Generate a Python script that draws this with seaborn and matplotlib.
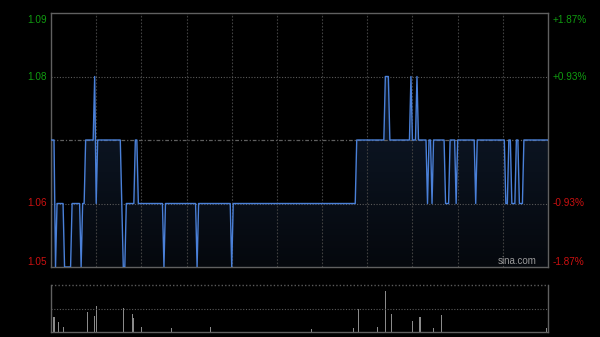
import numpy as np
import pandas as pd
import matplotlib
matplotlib.use("Agg")
import matplotlib.pyplot as plt
import seaborn as sns

# ---- data ----
price_levels = [1.07, 1.05, 1.06, 1.05, 1.06, 1.05, 1.06, 1.07, 1.08, 1.06,
                1.07, 1.06, 1.05, 1.06, 1.07, 1.06, 1.05, 1.06, 1.05, 1.06,
                1.05, 1.06, 1.07, 1.08, 1.07, 1.08, 1.07, 1.08, 1.07, 1.06,
                1.07, 1.06, 1.07, 1.06, 1.07, 1.06, 1.07, 1.06, 1.07, 1.06,
                1.07, 1.06, 1.07, 1.06, 1.07]
run_lengths = [3, 1, 5, 5, 6, 1, 2, 6, 1, 1,
               16, 1, 2, 6, 2, 17, 1, 21, 1, 22,
               1, 82, 19, 3, 14, 1, 3, 1, 6, 1,
               2, 1, 8, 3, 4, 1, 12, 1, 19, 2,
               2, 3, 2, 3, 17]
prev_close = 1.07

vol_minutes = [2, 5, 8, 24, 29, 30, 48, 54, 55, 60, 80, 106, 173,
               201, 204, 217, 222, 226, 240, 245, 254, 259, 329]
vol_values = [15, 10, 5, 20, 16, 26, 24, 18, 14, 5, 4, 5, 3,
              4, 23, 5, 41, 18, 11, 15, 4, 17, 4]

left_ticks = [1.09, 1.08, 1.06, 1.05]
right_labels = ["+1.87%", "+0.93%", "-0.93%", "-1.87%"]
n_minutes = 330

# ---- build frames ----
prices = np.repeat(price_levels, run_lengths)
df = pd.DataFrame({"minute": np.arange(len(prices)), "price": prices})
vol = np.zeros(len(prices))
vol[vol_minutes] = vol_values
dfv = pd.DataFrame({"minute": np.arange(len(prices)), "volume": vol})

sns.set_theme(style="dark")
plt.rcParams["font.family"] = ["Liberation Sans", "DejaVu Sans"]

fig = plt.figure(figsize=(6, 3.37), dpi=100, facecolor="black")
ax = fig.add_axes([51/600, 1-267/337, 497/600, 254/337])
axv = fig.add_axes([51/600, 1-332/337, 497/600, 47/337])
for a in (ax, axv):
    a.set_facecolor("black")
    a.grid(False)

# gradient fill under the line
ymin, ymax = 1.05, 1.09
grad = np.linspace(0, 1, 256).reshape(-1, 1)
cmap = matplotlib.colors.LinearSegmentedColormap.from_list(
    "f", ["#05080d", "#0f1a2b"])
im = ax.imshow(grad, extent=[0, n_minutes, ymin, 1.08], origin="lower",
               aspect="auto", cmap=cmap, zorder=1)
poly = ax.fill_between(df["minute"], df["price"], ymin, color="none", lw=0)
path = poly.get_paths()[0]
im.set_clip_path(path, transform=ax.transData)

# grid
for m in range(30, n_minutes, 30):
    ax.axvline(m, color="#404040", lw=0.8, ls=(0, (1.5, 1.5)), zorder=2)
for y in (1.08, 1.06):
    ax.axhline(y, color="#5a5a5a", lw=0.8, ls=(0, (1, 1.5)), zorder=2)
ax.axhline(prev_close, color="#5f5f5f", lw=0.9, ls=(0, (3, 1.5, 1, 1.5)), zorder=2)

sns.lineplot(data=df, x="minute", y="price", ax=ax, color="#4a80d8",
             lw=1.0, zorder=3)

ax.set_xlim(0, n_minutes)
ax.set_ylim(ymin, ymax)
ax.set_xticks([])
ax.set_yticks([])
ax.set_xlabel("")
ax.set_ylabel("")
for s in ax.spines.values():
    s.set_visible(True)
    s.set_color("#606060")
    s.set_linewidth(1.0)

trans = matplotlib.transforms.blended_transform_factory(ax.transAxes, ax.transData)
colors = ["#109a10", "#109a10", "#cc1010", "#cc1010"]
vas = ["top", "center", "center", "bottom"]
offs = [-0.0003, 0, 0, 0.0]
for val, lab, c, va, o in zip(left_ticks, right_labels, colors, vas, offs):
    ax.text(-0.008, val + o, f"{val:.2f}", transform=trans, ha="right",
            va=va, color=c, fontsize=7.2, clip_on=False)
    ax.text(1.01, val + o, lab, transform=trans, ha="left",
            va=va, color=c, fontsize=7.2, clip_on=False)

ax.text(0.978, 0.005, "sina.com", transform=ax.transAxes, ha="right",
        va="bottom", color="#9a9a9a", fontsize=7)

# volume panel
sns.barplot(data=dfv, x="minute", y="volume", ax=axv, native_scale=True,
            color="#8a8a8a", width=0.7, saturation=1, linewidth=0)
axv.set_xlim(0, n_minutes)
axv.set_ylim(0, 47)
axv.axhline(23.5, color="#5a5a5a", lw=0.8, ls=(0, (1, 1.5)))
axv.axhline(47, color="#5a5a5a", lw=1.0, ls=(0, (1, 1.5)), clip_on=False)
axv.set_xticks([])
axv.set_yticks([])
axv.set_xlabel("")
axv.set_ylabel("")
for k, s in axv.spines.items():
    s.set_color("#606060")
    s.set_linewidth(1.0)
    s.set_visible(k != "top")

fig.savefig("out.png", dpi=100, facecolor="black")
